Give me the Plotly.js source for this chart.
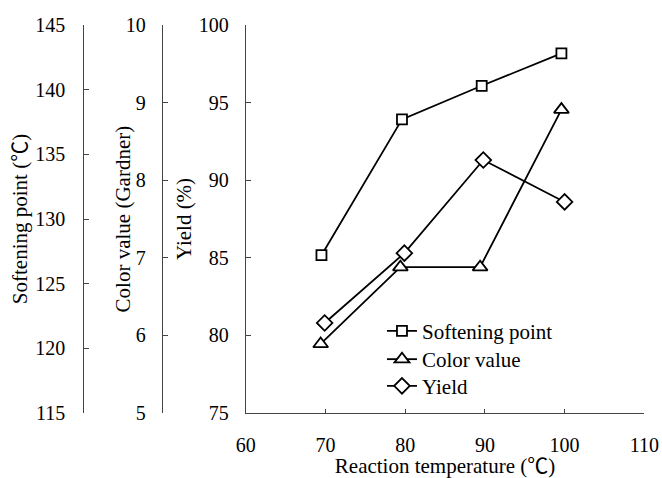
<!DOCTYPE html>
<html>
<head>
<meta charset="utf-8">
<script src="https://cdn.plot.ly/plotly-3.0.1.min.js"></script>
<style>html,body{margin:0;padding:0;background:#fff;}#chart{width:662px;height:478px;}</style>
</head>
<body>
<div id="chart"></div>
<script>
// Data
const softX = [69.5, 79.6, 89.6, 99.6];
const softeningPoint = [127.2, 137.7, 140.3, 142.8];
const colorX = [69.4, 79.4, 89.4, 99.6];
const colorValue = [5.89, 6.88, 6.88, 8.91];
const yieldX = [69.9, 79.9, 89.8, 100];
const yieldPct = [80.8, 85.3, 91.3, 88.6];

const seriesNames = ["Softening point", "Color value", "Yield"];
const xTitle = "Reaction temperature (℃)";
const softTitle = "Softening point (℃)";
const colorTitle = "Color value (Gardner)";
const yieldTitle = "Yield (%)";

const FONT = "'Liberation Serif', 'Times New Roman', 'Noto Sans CJK SC', serif";
const lineStyle = {color: "#000", width: 1.8};
const mk = (sym, size) => ({symbol: sym, size: size, color: "#fff", line: {color: "#000", width: 1.8}});

const traces = [
  {x: softX, y: softeningPoint, yaxis: "y3", name: seriesNames[0], mode: "lines+markers",
   line: lineStyle, marker: mk("square", 10), legend: "legend"},
  {x: colorX, y: colorValue, yaxis: "y2", name: seriesNames[1], mode: "lines+markers",
   line: lineStyle, marker: mk("triangle-up", 13), legend: "legend2"},
  {x: yieldX, y: yieldPct, yaxis: "y", name: seriesNames[2], mode: "lines+markers",
   line: lineStyle, marker: mk("diamond", 12), legend: "legend3"}
];

const axCommon = {
  showgrid: false, zeroline: false, showline: true, linecolor: "#444", linewidth: 1,
  ticks: "inside", ticklen: 5, tickcolor: "#444", tickwidth: 1,
  tickfont: {family: FONT, size: 20, color: "#000"}
};

const legBase = (y) => ({x: 0.577, y: y, xanchor: "left", yanchor: "top",
  font: {family: FONT, size: 21, color: "#000"}, bgcolor: "rgba(0,0,0,0)", borderwidth: 0});

const layout = {
  width: 662, height: 478,
  margin: {l: 0, r: 0, t: 25, b: 65},
  paper_bgcolor: "#fff", plot_bgcolor: "#fff",
  font: {family: FONT, size: 20, color: "#000"},
  showlegend: true,
  legend: legBase(0.2637),
  legend2: legBase(0.1907),
  legend3: legBase(0.1219),
  xaxis: Object.assign({}, axCommon, {
    domain: [0.3712, 0.9733], range: [60, 110], dtick: 10, tick0: 60,
    ticklen: 4, ticklabelstandoff: 14,
    title: {text: xTitle, font: {family: FONT, size: 21, color: "#000"}, standoff: 8}
  }),
  yaxis: Object.assign({}, axCommon, {
    range: [75, 100], dtick: 5, tick0: 75, anchor: "x", ticklabelstandoff: 12,
    title: {text: yieldTitle, font: {family: FONT, size: 21, color: "#000"}, standoff: 1}
  }),
  yaxis2: Object.assign({}, axCommon, {
    range: [5, 10], dtick: 1, tick0: 5, overlaying: "y", anchor: "free", side: "left",
    position: 0.2443, ticklabelstandoff: 12
  }),
  yaxis3: Object.assign({}, axCommon, {
    range: [115, 145], dtick: 5, tick0: 115, overlaying: "y", anchor: "free", side: "left",
    position: 0.1258, ticklabelstandoff: 14,
    title: {text: softTitle, font: {family: FONT, size: 21, color: "#000"}, standoff: 0}
  }),
  annotations: [
    {text: colorTitle, xref: "paper", yref: "paper", x: 0.1864, y: 0.5,
     xanchor: "center", yanchor: "middle", textangle: -90, showarrow: false,
     font: {family: FONT, size: 21, color: "#000"}}
  ],
  hovermode: false
};

Plotly.newPlot("chart", traces, layout, {displayModeBar: false, staticPlot: true});
</script>
</body>
</html>
